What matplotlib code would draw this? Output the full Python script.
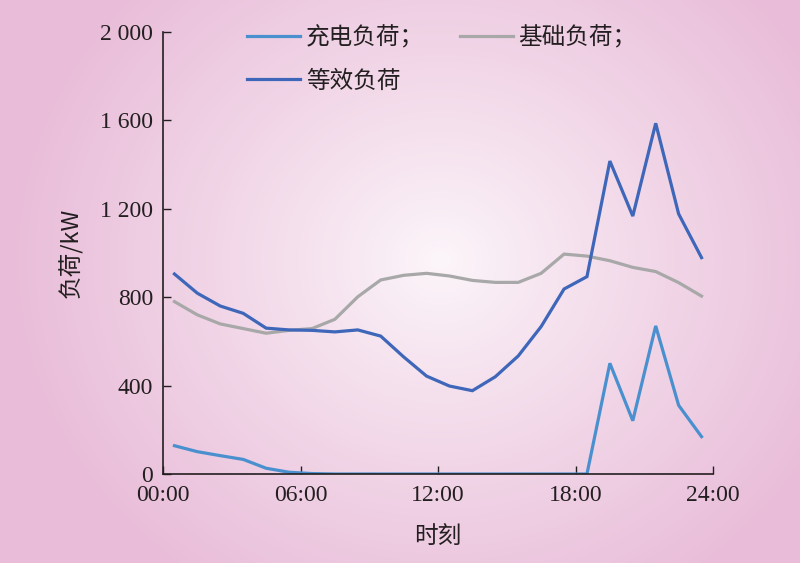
import numpy as np
import matplotlib
matplotlib.use("Agg")
import matplotlib.pyplot as plt
from matplotlib.lines import Line2D

# ---- data ----
hours = [h + 0.5 for h in range(24)]
charging = [128, 101, 83, 66, 26, 8, 2, 0, 0, 0, 0, 0,
            0, 0, 0, 0, 0, 0, 0, 501, 241, 670, 311, 169]
base = [780, 720, 679, 658, 637, 650, 658, 700, 802, 878, 899, 908,
        896, 876, 867, 867, 908, 995, 986, 965, 935, 916, 866, 805]
equivalent = [905, 818, 760, 727, 660, 652, 650, 643, 652, 624, 530, 443,
              398, 377, 440, 534, 667, 837, 893, 1416, 1167, 1587, 1177, 979]
xtick_pos = [0, 6, 12, 18, 24]
xtick_labels = ["00:00", "06:00", "12:00", "18:00", "24:00"]
ytick_pos = [0, 400, 800, 1200, 1600, 2000]
ytick_labels = ["0", "400", "800", "1 200", "1 600", "2 000"]
series_names = ["充电负荷；", "基础负荷；", "等效负荷"]

cjk = ["Noto Sans CJK SC", "DejaVu Sans"]
serif = ["Liberation Serif", "DejaVu Serif"]
ink = "#231f20"

W, H = 800, 563
fig = plt.figure(figsize=(W / 100, H / 100), dpi=100)

# radial gradient background
bg = fig.add_axes([0, 0, 1, 1], zorder=-10)
yy, xx = np.mgrid[0:H, 0:W]
cx, cy = 440, 260
d = np.sqrt((xx - cx) ** 2 + ((yy - cy) * 1.1) ** 2) / 430.0
d = np.clip(d, 0, 1) ** 0.9
c0 = np.array([252, 246, 250]) / 255.0
c1 = np.array([233, 189, 217]) / 255.0
img = c0[None, None, :] * (1 - d[..., None]) + c1[None, None, :] * d[..., None]
bg.imshow(img, aspect="auto", extent=[0, 1, 0, 1], origin="upper")
bg.axis("off")

ax = fig.add_axes([163 / W, 1 - 474 / H, (713 - 163) / W, (474 - 32) / H])
ax.patch.set_alpha(0)

c_charge = "#4a90cf"
c_base = "#a8a8a8"
c_eq = "#3e66b9"
lw = 2.3
ax.plot(hours, charging, color=c_charge, lw=lw, solid_joinstyle="miter")
ax.plot(hours, base, color=c_base, lw=lw, solid_joinstyle="miter")
ax.plot(hours, equivalent, color=c_eq, lw=lw, solid_joinstyle="miter")

ax.set_xlim(0, 24)
ax.set_ylim(0, 2000)
ax.set_xticks(xtick_pos)
ax.set_xticklabels(xtick_labels, family=serif, fontsize=17, color=ink)
ax.set_yticks(ytick_pos)
ax.set_yticklabels(ytick_labels, family=serif, fontsize=17, color=ink)
ax.tick_params(direction="in", length=6, width=1, color=ink)
ax.tick_params(axis="x", pad=8)
ax.tick_params(axis="y", pad=7)
for lbl in ax.get_yticklabels():
    lbl.set_verticalalignment("center_baseline")
for s in ["top", "right"]:
    ax.spines[s].set_visible(False)
for s in ["left", "bottom"]:
    ax.spines[s].set_color(ink)
    ax.spines[s].set_linewidth(1.2)

ax.set_xlabel("时刻", family=cjk, fontsize=17, labelpad=14, color=ink)
ax.set_ylabel("负荷/kW", family=cjk, fontsize=17, labelpad=12, color=ink)

# legend: row 1 = 充电负荷, 基础负荷 ; row 2 = 等效负荷 (column-major fill)
h_charge = Line2D([], [], color=c_charge, lw=lw)
h_base = Line2D([], [], color=c_base, lw=lw)
h_eq = Line2D([], [], color=c_eq, lw=lw)
leg = ax.legend([h_charge, h_eq, h_base],
                [series_names[0], series_names[2], series_names[1]],
                ncol=2, frameon=False, loc="upper left",
                bbox_to_anchor=(247 / W, 1 - 26 / H),
                bbox_transform=fig.transFigure,
                borderpad=0, borderaxespad=0,
                prop={"family": cjk, "size": 17}, handlelength=2.25,
                handletextpad=0.25, columnspacing=1.5, labelspacing=0.85)
for t in leg.get_texts():
    t.set_color(ink)

fig.savefig("out.png", dpi=100)
